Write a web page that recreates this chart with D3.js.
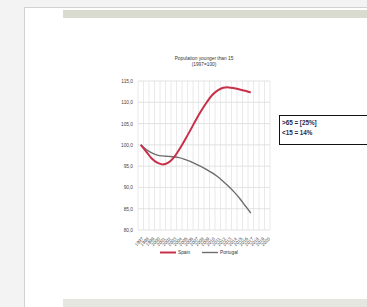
<!DOCTYPE html>
<html><head><meta charset="utf-8">
<script src="https://cdn.jsdelivr.net/npm/d3@7"></script>
<style>html,body{margin:0;padding:0;background:#f3f3f3;}svg{display:block;}</style>
</head><body>
<script>
const years = d3.range(1997, 2021).map(String);
const spain = [100,98.4,96.8,95.8,95.4,95.8,97.0,98.9,101.1,103.4,105.8,108.0,110.0,111.7,112.8,113.4,113.5,113.3,113.0,112.7,112.3];
const portugal = [100,98.9,98.1,97.6,97.4,97.3,97.2,97.0,96.6,96.1,95.5,94.9,94.2,93.4,92.5,91.4,90.2,88.9,87.4,85.7,84.0];
const yTicks = [80,85,90,95,100,105,110,115];
const seriesNames = ["Spain","Portugal"];
const seriesColors = ["#c8304a","#6e6e6e"];
const boxLines = [">65 = [25%]", "<15 = 14%"];
const titleLines = ["Population younger than 15", "(1997=100)"];

const W = 367, H = 307;
const svg = d3.select("body").append("svg").attr("width", W).attr("height", H);

// page decoration
svg.append("rect").attr("x",0).attr("y",0).attr("width",W).attr("height",H).attr("fill","#f3f3f3");
svg.append("rect").attr("x",25).attr("y",8).attr("width",W-25).attr("height",H-8).attr("fill","#ffffff");
svg.append("line").attr("x1",24.5).attr("x2",24.5).attr("y1",7.5).attr("y2",H).attr("stroke","#d2d2d2");
svg.append("line").attr("x1",24.5).attr("x2",W).attr("y1",7.5).attr("y2",7.5).attr("stroke","#d2d2d2");
svg.append("rect").attr("x",63).attr("y",10).attr("width",W-63).attr("height",8).attr("fill","#d9dbcf");
svg.append("rect").attr("x",63).attr("y",299).attr("width",W-63).attr("height",8).attr("fill","#e5e6df");

// chart
const L = 138, R = 270, T = 81, B = 230;
const x = d3.scaleBand().domain(years).range([L, R]);
const y = d3.scaleLinear().domain([80, 115]).range([B, T]);
const g = svg.append("g");

// vertical grid
g.selectAll("line.vg").data(years.concat(["end"])).enter().append("line")
  .attr("x1", (d,i)=> L + i*x.step()).attr("x2",(d,i)=> L + i*x.step())
  .attr("y1", T).attr("y2", B).attr("stroke","#e4e4e4").attr("stroke-width",0.8);
// horizontal grid
g.selectAll("line.hg").data(yTicks).enter().append("line")
  .attr("x1", L).attr("x2", R).attr("y1", d=>y(d)).attr("y2", d=>y(d))
  .attr("stroke","#dcdcdc").attr("stroke-width",0.8);

// y axis labels
const yAxis = d3.axisLeft(y).tickValues(yTicks).tickSize(0).tickPadding(5)
  .tickFormat(d => d3.format(".1f")(d).replace(".", ","));
const ya = g.append("g").attr("transform",`translate(${L},0)`).call(yAxis);
ya.select(".domain").remove();
ya.selectAll("text").attr("font-family","Liberation Sans, Arial").attr("font-size",4.8).attr("fill","#444");

// x axis labels
const xAxis = d3.axisBottom(x).tickSize(0).tickPadding(0);
const xa = g.append("g").attr("transform",`translate(0,${B+3})`).call(xAxis);
xa.select(".domain").remove();
xa.selectAll("text").attr("font-family","Liberation Sans, Arial").attr("font-size",4.6).attr("fill","#444")
  .attr("text-anchor","end").attr("dy","0.35em").attr("transform","translate(2,5) rotate(-45)");

// lines
const line = d3.line().x((d,i)=> x(years[i]) + x.bandwidth()/2).y(d=>y(d)).curve(d3.curveCatmullRom.alpha(0.5));
g.append("path").datum(portugal).attr("d", line).attr("fill","none").attr("stroke",seriesColors[1]).attr("stroke-width",1.4);
g.append("path").datum(spain).attr("d", line).attr("fill","none").attr("stroke",seriesColors[0]).attr("stroke-width",2);

// title
svg.append("g").selectAll("text").data(titleLines).enter().append("text")
  .attr("x", 204).attr("y",(d,i)=> 60 + i*5.5).attr("text-anchor","middle")
  .attr("font-family","Liberation Sans, Arial").attr("font-size",4.8).attr("fill","#333").text(d=>d);

// legend
const leg = svg.append("g");
const legX = [160, 202];
seriesNames.forEach((n,i)=>{
  leg.append("line").attr("x1",legX[i]).attr("x2",legX[i]+16).attr("y1",252.5).attr("y2",252.5)
    .attr("stroke",seriesColors[i]).attr("stroke-width", i===0?2:1.4);
  leg.append("text").attr("x",legX[i]+18).attr("y",254.2).attr("font-family","Liberation Sans, Arial")
    .attr("font-size",4.8).attr("fill","#333").text(n);
});

// text box
svg.append("rect").attr("x",279.5).attr("y",115.5).attr("width",90).attr("height",29)
  .attr("fill","#fff").attr("stroke","#111").attr("stroke-width",1);
svg.append("g").selectAll("text").data(boxLines).enter().append("text")
  .attr("x",282).attr("y",(d,i)=> 125 + i*9.5).attr("font-family","Liberation Sans, Arial")
  .attr("font-size",6.3).attr("font-weight","bold").attr("fill","#1f2a4a").text(d=>d);
</script>
</body></html>
